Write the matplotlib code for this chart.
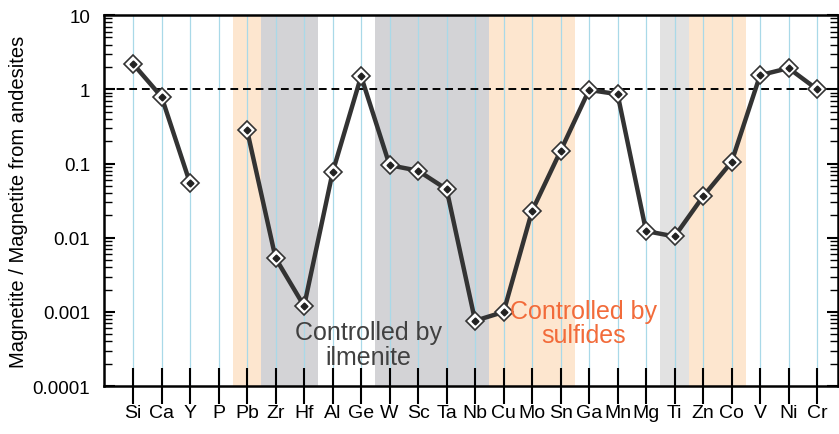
import matplotlib.pyplot as plt
import numpy as np

elements = ["Si", "Ca", "Y", "P", "Pb", "Zr", "Hf", "Al", "Ge", "W", "Sc", "Ta",
            "Nb", "Cu", "Mo", "Sn", "Ga", "Mn", "Mg", "Ti", "Zn", "Co", "V", "Ni", "Cr"]
# ratio of magnetite to magnetite from andesites (P not plotted)
ratio = [2.2, 0.79, 0.054, np.nan, 0.28, 0.0053, 0.0012, 0.076, 1.5, 0.095, 0.08,
         0.045, 0.00076, 0.001, 0.023, 0.148, 0.98, 0.86, 0.0123, 0.0104, 0.036,
         0.105, 1.55, 1.93, 1.0]

# shaded groups: (first element, last element, kind)
bands = [("Pb", "Pb", "sulfide"), ("Zr", "Hf", "ilmenite"), ("W", "Nb", "ilmenite"),
         ("Cu", "Sn", "sulfide"), ("Ti", "Ti", "light"), ("Zn", "Co", "sulfide")]
band_colors = {"sulfide": "#fde6cf", "ilmenite": "#d3d3d6", "light": "#e2e2e2"}


def main():
    plt.rcParams["font.family"] = ["Liberation Sans", "DejaVu Sans"]
    fig = plt.figure(figsize=(8.39, 4.35), dpi=100)
    ax = fig.add_axes([0.124, 0.110, 0.875, 0.853])

    x = np.arange(len(elements))
    for first, last, kind in bands:
        ax.axvspan(elements.index(first) - 0.5, elements.index(last) + 0.5,
                   color=band_colors[kind], lw=0, zorder=0)
    for xi in x:
        ax.axvline(xi, color="#a9d9e8", lw=0.9, zorder=1)

    ax.axhline(1, color="black", lw=1.4, ls=(0, (4, 2.5)), zorder=2)

    ax.plot(x, ratio, color="#333333", lw=3.2, zorder=3,
            marker="D", markersize=9, markerfacecolor="white",
            markeredgecolor="#333333", markeredgewidth=1.2)
    ax.plot(x, ratio, ls="none", marker="D", markersize=3.5, color="#222222", zorder=4)

    ax.text(8.25, 0.00036, "Controlled by\nilmenite", ha="center", va="center",
            fontsize=18, color="#404040", linespacing=1.05, zorder=5)
    ax.text(15.82, 0.00071, "Controlled by\nsulfides", ha="center", va="center",
            fontsize=18, color="#f26b3a", linespacing=1.05, zorder=5)

    ax.set_yscale("log")
    ax.set_ylim(0.0001, 10)
    ax.set_xlim(-1.02, 24.74)
    ax.set_xticks(x)
    ax.set_xticklabels(elements, fontsize=14)
    ax.set_yticks([0.0001, 0.001, 0.01, 0.1, 1, 10])
    ax.set_yticklabels(["0.0001", "0.001", "0.01", "0.1", "1", "10"], fontsize=13.5)
    ax.set_ylabel("Magnetite / Magnetite from andesites", fontsize=14.5, labelpad=3)

    ax.tick_params(axis="x", direction="inout", length=26, width=1.5, pad=0)
    ax.tick_params(axis="y", which="major", direction="in", length=8, width=1.5,
                   right=True, pad=10)
    ax.tick_params(axis="y", which="minor", direction="in", length=6, width=1.0,
                   right=True)
    for side in ax.spines.values():
        side.set_linewidth(1.8)

    fig.savefig("out.png", dpi=100)


if __name__ == "__main__":
    main()
